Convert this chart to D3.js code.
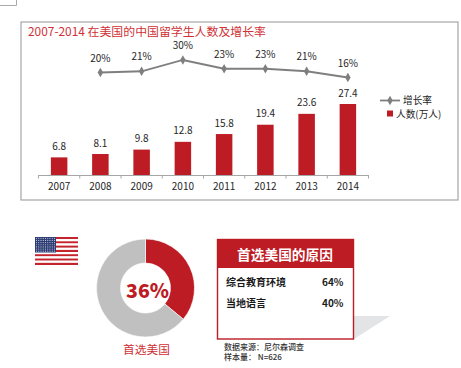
<!DOCTYPE html>
<html><head><meta charset="utf-8">
<script src="https://cdn.jsdelivr.net/npm/d3@7/dist/d3.min.js"></script>
<style>html,body{margin:0;padding:0;background:#fff;overflow:hidden}svg{display:block}text{font-family:"Noto Sans CJK SC","Noto Sans",sans-serif}</style>
</head><body><svg id="c" width="461" height="368"></svg>
<script>
const years=["2007","2008","2009","2010","2011","2012","2013","2014"];
const people=[6.8,8.1,9.8,12.8,15.8,19.4,23.6,27.4];
const rateYears=["2008","2009","2010","2011","2012","2013","2014"];
const rates=[20,21,30,23,23,21,16];
const titleText="2007-2014 在美国的中国留学生人数及增长率";
const legendLabels=["增长率","人数(万人)"];
const donutValues=[36,64];
const reasons=["综合教育环境","当地语言"];
const reasonValues=["64%","40%"];
const RED="#bd1c24",GREY="#7f7f7f",TXT="#262626";
const svg=d3.select("#c");
// corner fragment
svg.append("path").attr("d","M0,5.5H16.5V0").attr("fill","none").attr("stroke","#aaa");
// frame
svg.append("rect").attr("x",21).attr("y",22).attr("width",437).attr("height",178).attr("fill","#fff").attr("stroke","#a6a6a6").attr("stroke-width",1.2);
svg.append("text").attr("x",28).attr("y",35.5).attr("font-size",11.9).attr("fill","#cf3035").text(titleText);
const x=d3.scaleBand().domain(years).range([38.5,368.5]).paddingInner(0.6).paddingOuter(0.3);
const band=x.step();
const y=d3.scaleLinear().domain([0,27.4]).range([175,104]);
const yr=d3.scaleLinear().domain([16,30]).range([77.5,60]);
const cx=d=>x(d)+x.bandwidth()/2;
// bars
svg.selectAll(".bar").data(years).join("rect").attr("x",d=>x(d)).attr("width",x.bandwidth())
 .attr("y",(d,i)=>y(people[i])).attr("height",(d,i)=>y(0)-y(people[i])).attr("fill",RED);
svg.selectAll(".bl").data(years).join("text").attr("class","bl").attr("x",cx).attr("y",(d,i)=>y(people[i])-7.5)
 .attr("text-anchor","middle").attr("font-size",10).attr("fill",TXT).text((d,i)=>people[i]);
// axis
const axis=d3.axisBottom(x).tickSize(0).tickPadding(8);
const ag=svg.append("g").attr("transform","translate(0,175)").call(axis);
ag.select(".domain").attr("stroke","#a6a6a6");
ag.selectAll("text").attr("font-size",10).attr("fill",TXT);
ag.selectAll(".sep").data(d3.range(years.length+1)).join("line").attr("class","sep")
 .attr("x1",i=>38.5+i*band).attr("x2",i=>38.5+i*band).attr("y1",0).attr("y2",3.5).attr("stroke","#a6a6a6");
// line
const line=d3.line().x(d=>cx(d)).y((d,i)=>yr(rates[i]));
svg.append("path").attr("d",line(rateYears)).attr("fill","none").attr("stroke",GREY).attr("stroke-width",1.8);
const diamond=d3.symbol().type(d3.symbolDiamond).size(26);
svg.selectAll(".pt").data(rateYears).join("path").attr("class","pt").attr("d",diamond)
 .attr("transform",(d,i)=>`translate(${cx(d)},${yr(rates[i])})`).attr("fill",GREY);
svg.selectAll(".rl").data(rateYears).join("text").attr("class","rl").attr("x",cx).attr("y",(d,i)=>yr(rates[i])-11)
 .attr("text-anchor","middle").attr("font-size",10).attr("fill",TXT).text((d,i)=>rates[i]+"%");
// legend
svg.append("line").attr("x1",380).attr("x2",400).attr("y1",100.5).attr("y2",100.5).attr("stroke",GREY).attr("stroke-width",1.8);
svg.append("path").attr("d",diamond).attr("transform","translate(390,100.5)").attr("fill",GREY);
svg.append("text").attr("x",403).attr("y",104).attr("font-size",9.7).attr("fill",TXT).text(legendLabels[0]);
svg.append("rect").attr("x",387).attr("y",110.5).attr("width",6).attr("height",6).attr("fill",RED);
svg.append("text").attr("x",396).attr("y",118).attr("font-size",9.7).attr("fill",TXT).text(legendLabels[1]);
// flag
const flag=svg.append("g");
const fy=d3.scaleBand().domain(d3.range(13)).range([237,265]);
flag.selectAll(".st").data(d3.range(13)).join("rect").attr("x",35).attr("width",43).attr("y",d=>fy(d)).attr("height",fy.bandwidth())
 .attr("fill",d=>d%2?"#fff":"#c4242c");
flag.append("rect").attr("x",35).attr("y",237).attr("width",21).attr("height",15.5).attr("fill","#2a3a72");
for(let r=0;r<7;r++)for(let c=0;c<9;c++){
 flag.append("circle").attr("cx",36.5+c*2.25).attr("cy",238.3+r*2.15).attr("r",0.6).attr("fill","#c3c8da");
}
// donut
const pie=d3.pie().sort(null)(donutValues);
const arc=d3.arc().innerRadius(25).outerRadius(49);
const dg=svg.append("g").attr("transform","translate(145.5,288)");
dg.selectAll("path").data(pie).join("path").attr("d",arc).attr("fill",(d,i)=>i?"#c0c0c0":RED).attr("stroke","#fff").attr("stroke-width",0.6);
dg.append("text").attr("x",2).attr("y",9.5).attr("text-anchor","middle").attr("font-size",19.5).attr("font-weight",900).attr("fill",RED).text(donutValues[0]+"%");
svg.append("text").attr("x",146.5).attr("y",354).attr("text-anchor","middle").attr("font-size",11.7).attr("fill","#cf3035").text("首选美国");
// card
svg.append("path").attr("d",d3.line()([[354,316],[390,316],[354,339]])).attr("fill","#e3e4e6");
svg.append("rect").attr("x",217.5).attr("y",239.5).attr("width",136).attr("height",99.5).attr("fill","#fff").attr("stroke",RED).attr("stroke-width",1.4);
svg.append("rect").attr("x",217).attr("y",239).attr("width",137).attr("height",29).attr("fill",RED);
svg.append("text").attr("x",285).attr("y",259.5).attr("text-anchor","middle").attr("font-size",13.7).attr("font-weight",700).attr("fill","#fff").text("首选美国的原因");
const rowY=[286,307];
reasons.forEach((r,i)=>{
 svg.append("text").attr("x",226).attr("y",rowY[i]).attr("font-size",10).attr("font-weight",700).attr("fill","#1a1a1a").text(r);
 svg.append("text").attr("x",343.5).attr("y",rowY[i]).attr("text-anchor","end").attr("font-size",10).attr("font-weight",700).attr("fill","#1a1a1a").text(reasonValues[i]);
});
svg.append("text").attr("x",224).attr("y",350).attr("font-size",8).attr("font-weight",500).attr("fill","#333").text("数据来源：尼尔森调查");
svg.append("text").attr("x",224).attr("y",359.5).attr("font-size",8).attr("font-weight",500).attr("fill","#333").text("样本量： N=626");
</script></body></html>
